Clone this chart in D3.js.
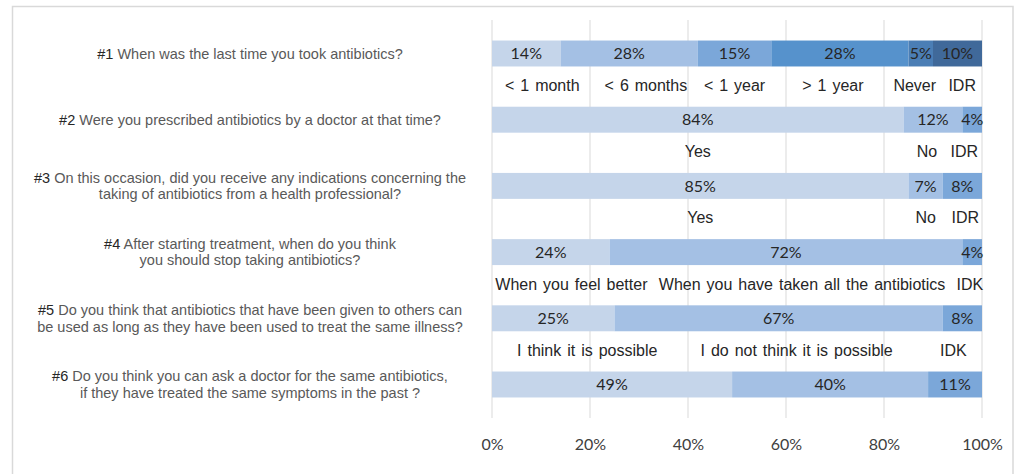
<!DOCTYPE html>
<html>
<head>
<meta charset="utf-8">
<script src="https://cdn.jsdelivr.net/npm/d3@7"></script>
<style>
  body { margin: 0; background: #fff; }
  svg { display: block; }
</style>
</head>
<body>
<svg id="chart" width="1019" height="474"></svg>
<script>
// Data
// ----

var questionIds = ["#1", "#2", "#3", "#4", "#5", "#6"];

var questionTexts = [
  ["When was the last time you took antibiotics?"],
  ["Were you prescribed antibiotics by a doctor at that time?"],
  ["On this occasion, did you receive any indications concerning the", "taking of antibiotics from a health professional?"],
  ["After starting treatment, when do you think", "you should stop taking antibiotics?"],
  ["Do you think that antibiotics that have been given to others can", "be used as long as they have been used to treat the same illness?"],
  ["Do you think you can ask a doctor for the same antibiotics,", "if they have treated the same symptoms in the past ?"]
];

var answers = [
  ["< 1 month", "< 6 months", "< 1 year", "> 1 year", "Never", "IDR"],
  ["Yes", "No", "IDR"],
  ["Yes", "No", "IDR"],
  ["When you feel better", "When you have taken all the antibiotics", "IDK"],
  ["I think it is possible", "I do not think it is possible", "IDK"],
  ["", "", ""]
];

var percents = [
  [14, 28, 15, 28, 5, 10],
  [84, 12, 4],
  [85, 7, 8],
  [24, 72, 4],
  [25, 67, 8],
  [49, 40, 11]
];

var xTicks = [0, 20, 40, 60, 80, 100];

// Layout
// ------

var svg = d3.select("#chart");
var colors = ["#c5d5ea", "#a4c0e4", "#7ba7d9", "#5692cc", "#4b7eb5", "#40699a"];

// hand nudges (px) of the answer labels, as placed in the original
var answerShift = [
  [10, 14, 0, -7, -6, 1],
  [0, -6, -2],
  [0, 0, 3],
  [0, 0, 0],
  [22, 18, -9],
  [0, 0, 0]
];

var x = d3.scaleLinear().domain([0, 100]).range([492, 982]);
var y = d3.scaleBand()
  .domain(questionIds)
  .range([20, 418])
  .paddingInner(0.608)
  .paddingOuter(0.31);

// outer frame
svg.append("rect")
  .attr("x", 12.5).attr("y", 6.5)
  .attr("width", 1000.5).attr("height", 500)
  .attr("fill", "none")
  .attr("stroke", "#d9d9d9")
  .attr("stroke-width", 1.5);

// Gridlines
// ---------
svg.append("g")
  .selectAll("line")
  .data(xTicks)
  .enter().append("line")
  .attr("x1", function(d) { return x(d) })
  .attr("x2", function(d) { return x(d) })
  .attr("y1", 20)
  .attr("y2", 418)
  .attr("stroke", "#d9d9d9")
  .attr("stroke-width", 1);

// x axis labels
var xAxis = svg.append("g")
  .attr("transform", "translate(0,436)")
  .call(d3.axisBottom(x).tickValues(xTicks).tickSize(0).tickFormat(function(d) { return d + "%" }));
xAxis.select(".domain").remove();
xAxis.selectAll("text")
  .attr("font-family", "Lato, sans-serif")
  .attr("font-size", "16px")
  .attr("fill", "#404040");

// Stacked rows
// ------------
var rows = svg.append("g")
  .selectAll(".row")
  .data(questionIds)
  .enter().append("g")
  .attr("class", "row");

rows.each(function(id, qi) {
  var g = d3.select(this);
  var top = y(id);
  var h = y.bandwidth();

  var segs = [];
  var acc = 0;
  percents[qi].forEach(function(v, i) {
    segs.push({ start: acc, end: acc + v, value: v, label: answers[qi][i], i: i });
    acc += v;
  });

  // bars
  g.selectAll("rect")
    .data(segs)
    .enter().append("rect")
    .attr("x", function(d) { return x(d.start) })
    .attr("width", function(d) { return x(d.end) - x(d.start) })
    .attr("y", top)
    .attr("height", h)
    .attr("fill", function(d) { return colors[d.i] });

  // values
  g.selectAll(".val")
    .data(segs)
    .enter().append("text")
    .attr("class", "val")
    .attr("x", function(d) { return x((d.start + d.end) / 2) })
    .attr("y", top + h / 2)
    .attr("dy", "0.36em")
    .attr("text-anchor", "middle")
    .attr("font-family", "Lato, sans-serif")
    .attr("font-size", "16px")
    .attr("fill", "#262626")
    .text(function(d) { return d.value + "%" });

  // answer labels under the bar, pushed apart when they collide
  var labs = g.selectAll(".ans")
    .data(segs.filter(function(d) { return d.label }))
    .enter().append("text")
    .attr("class", "ans")
    .attr("y", top + h + 19)
    .attr("dy", "0.35em")
    .attr("text-anchor", "middle")
    .attr("font-family", "'Liberation Sans', Arial, sans-serif")
    .attr("font-size", "16px")
    .attr("word-spacing", "1.5px")
    .attr("fill", "#262626")
    .text(function(d) { return d.label });

  var prevEnd = -Infinity;
  labs.each(function(d) {
    var w = this.getBBox().width;
    var cx = x((d.start + d.end) / 2);
    cx = Math.max(cx, x(0) + w / 2 + 3);
    cx = Math.min(cx, x(100) - w / 2 - 2);
    if (cx - w / 2 < prevEnd + 11) cx = prevEnd + 11 + w / 2;
    cx += answerShift[qi][d.i];
    prevEnd = cx + w / 2;
    d3.select(this).attr("x", cx);
  });

  // question text
  var lines = questionTexts[qi];
  var lh = 16.5;
  var q = g.append("text")
    .attr("text-anchor", "middle")
    .attr("font-family", "'Liberation Sans', Arial, sans-serif")
    .attr("font-size", "14.5px")
    .attr("fill", "#595959");
  lines.forEach(function(line, li) {
    var t = q.append("tspan")
      .attr("x", 250)
      .attr("y", top + h / 2 + (li - (lines.length - 1) / 2) * lh)
      .attr("dy", "0.35em");
    if (li === 0) {
      t.append("tspan").attr("fill", "#262626").text(id + " ");
    }
    t.append("tspan").text(line);
  });
});
</script>
</body>
</html>
